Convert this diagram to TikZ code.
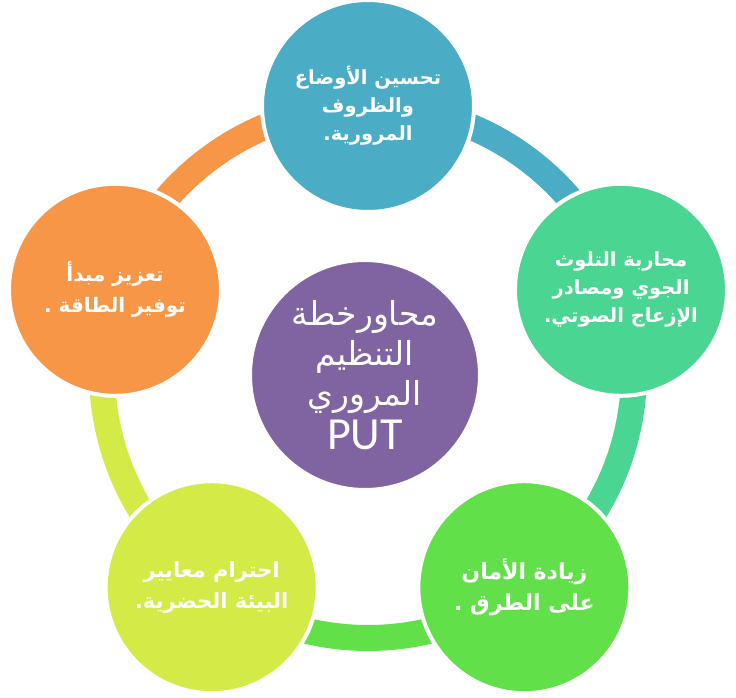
\documentclass[tikz,border=0pt]{standalone}
\usepackage{fontspec}
\newfontfamily\arabicfont[Script=Arabic]{DejaVu Sans}
\newfontfamily\latinfont{Carlito}
\TeXXeTstate=1
\definecolor{cTop}{HTML}{4BACC6}
\definecolor{cRight}{HTML}{4AD592}
\definecolor{cLowRight}{HTML}{62E04A}
\definecolor{cLowLeft}{HTML}{D4EA47}
\definecolor{cLeft}{HTML}{F79646}
\definecolor{cHub}{HTML}{8064A2}
\newcommand{\ar}[1]{\beginR #1\endR}
\tikzset{
  ring/.style={line width=26pt},
  petal/.style={circle, fill=#1, draw=white, line width=4pt, minimum size=212pt,
    inner sep=0pt, text=white, align=center,
    font=\arabicfont\bfseries\fontsize{19.5}{28}\selectfont},
  big text/.style={font=\arabicfont\bfseries\fontsize{#1}{31}\selectfont},
  hub/.style={circle, fill=cHub, draw=white, line width=4pt, minimum size=230pt,
    inner sep=0pt, text=white, align=center,
    font=\arabicfont\fontsize{33}{40}\selectfont},
}
\begin{document}
\begin{tikzpicture}[x=1pt,y=1pt]
  \useasboundingbox (-368,-325) rectangle (368,372);
  % ring between the circles
  \foreach \a/\c in {90/cTop, 18/cRight, -54/cLowRight, -126/cLowLeft, 162/cLeft}
    \draw[ring, \c] (\a:266) arc[start angle=\a, end angle=\a-72, radius=266];
  % circles
  \node[hub] (hub) at (-3,-3) {\ar{محاورخطة}\\\ar{التنظيم}\\\ar{المروري}\\[4pt]{\latinfont\fontsize{46}{40}\selectfont PUT}};
  \node[petal=cTop] (conditions) at (90:266) {\ar{تحسين الأوضاع}\\\ar{والظروف}\\\ar{المرورية.}};
  \node[petal=cRight] (pollution) at (18:266) {\ar{محاربة التلوث}\\\ar{الجوي ومصادر}\\\ar{الإزعاج الصوتي.}};
  \node[petal=cLowRight, big text=22] (safety) at (-54:266) {\ar{زيادة الأمان}\\\ar{على الطرق .}};
  \node[petal=cLowLeft, big text=21] (urban) at (-126:266) {\ar{احترام معايير}\\\ar{البيئة الحضرية.}};
  \node[petal=cLeft, big text=20] (energy) at (162:266) {\ar{تعزيز مبدأ}\\\ar{توفير الطاقة .}};
\end{tikzpicture}
\end{document}
